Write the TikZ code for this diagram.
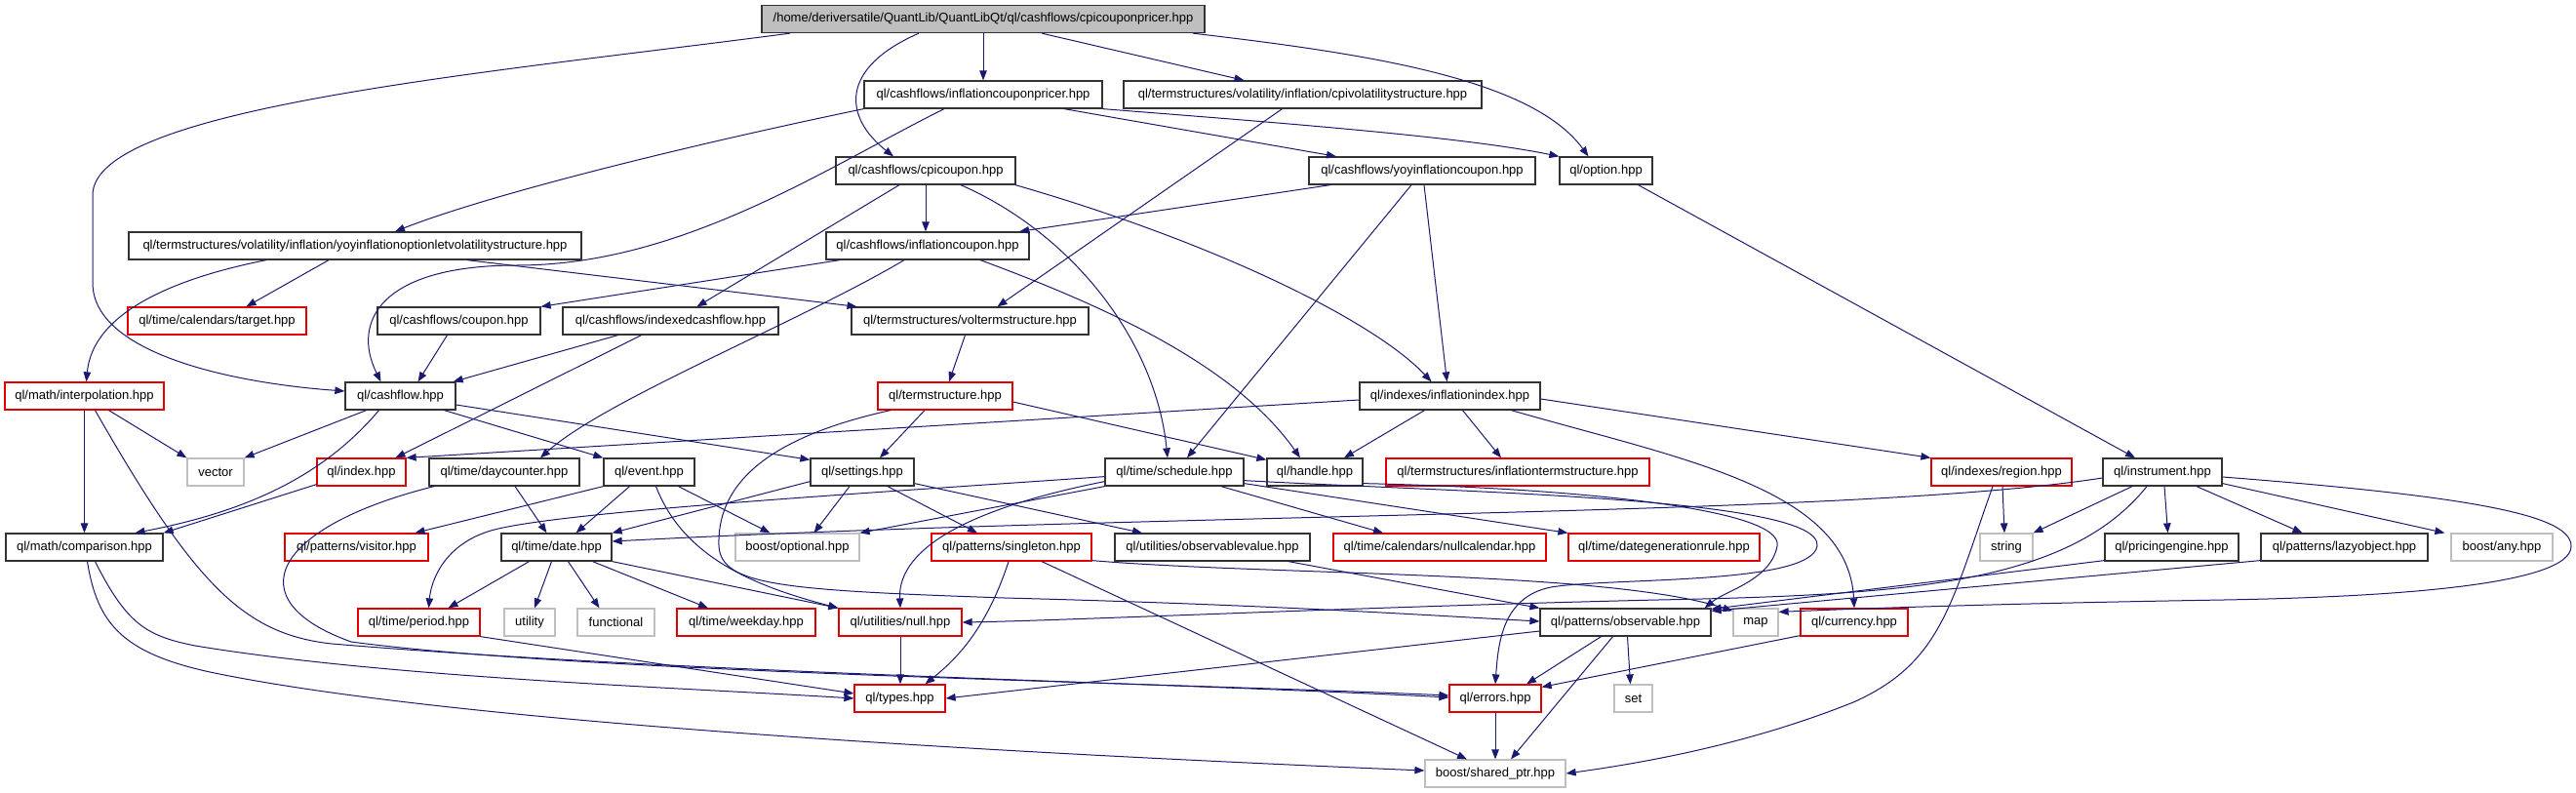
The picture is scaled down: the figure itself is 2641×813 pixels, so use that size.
\documentclass[tikz,border=0pt]{standalone}
\usepackage{fontspec}
\setmainfont{Liberation Sans}
\usetikzlibrary{arrows.meta}
\definecolor{navy}{HTML}{191970}
\definecolor{boxgray}{HTML}{BFBFBF}
\newcommand{\nodefont}{\fontsize{13}{15}\selectfont}
\begin{document}
\begin{tikzpicture}[x=1pt,y=-1pt,
  nb/.style={draw=black!80, line width=1.25pt, rectangle, minimum height=28pt, inner sep=0pt, font=\nodefont, text=black},
  nr/.style={nb, draw=red!90!black},
  ng/.style={nb, draw=boxgray},
  nroot/.style={nb, fill=boxgray},
  dep/.style={draw=navy, line width=1pt, -{Triangle[length=10pt,width=7.5pt]}}]
\useasboundingbox (0,0) rectangle (2641,813);
% nodes
\node[nroot, minimum width=454pt] (root) at (1008,19.5) {/home/deriversatile/QuantLib/QuantLibQt/ql/cashflows/cpicouponpricer.hpp};
\node[nb, minimum width=244pt] (icp) at (1008,97) {ql/cashflows/inflationcouponpricer.hpp};
\node[nb, minimum width=367pt] (cpv) at (1335.5,97) {ql/termstructures/volatility/inflation/cpivolatilitystructure.hpp};
\node[nb, minimum width=184pt] (cpc) at (949,175) {ql/cashflows/cpicoupon.hpp};
\node[nb, minimum width=232pt] (yic) at (1458,175) {ql/cashflows/yoyinflationcoupon.hpp};
\node[nb, minimum width=95pt] (opt) at (1646.5,175) {ql/option.hpp};
\node[nb, minimum width=464pt] (yov) at (364,252) {ql/termstructures/volatility/inflation/yoyinflationoptionletvolatilitystructure.hpp};
\node[nb, minimum width=208pt] (ic) at (951,252) {ql/cashflows/inflationcoupon.hpp};
\node[nr, minimum width=183pt] (target) at (222.5,329) {ql/time/calendars/target.hpp};
\node[nb, minimum width=167pt] (coupon) at (470.5,329) {ql/cashflows/coupon.hpp};
\node[nb, minimum width=221pt] (icf) at (687.5,329) {ql/cashflows/indexedcashflow.hpp};
\node[nb, minimum width=243pt] (vts) at (994.5,329) {ql/termstructures/voltermstructure.hpp};
\node[nr, minimum width=163pt] (int) at (86.5,406) {ql/math/interpolation.hpp};
\node[nb, minimum width=113pt] (cf) at (410.5,406) {ql/cashflow.hpp};
\node[nr, minimum width=138pt] (ts) at (969,406) {ql/termstructure.hpp};
\node[nb, minimum width=185pt] (ii) at (1486.5,406) {ql/indexes/inflationindex.hpp};
\node[ng, minimum width=58pt] (vector) at (221,484) {vector};
\node[nr, minimum width=91pt] (index) at (370.5,484) {ql/index.hpp};
\node[nb, minimum width=154pt] (dc) at (517,484) {ql/time/daycounter.hpp};
\node[nb, minimum width=93pt] (event) at (665.5,484) {ql/event.hpp};
\node[nb, minimum width=106pt] (settings) at (884,484) {ql/settings.hpp};
\node[nb, minimum width=142pt] (sched) at (1204,484) {ql/time/schedule.hpp};
\node[nb, minimum width=98pt] (handle) at (1348,484) {ql/handle.hpp};
\node[nr, minimum width=270pt] (its) at (1556,484) {ql/termstructures/inflationtermstructure.hpp};
\node[nr, minimum width=144pt] (region) at (2052,484) {ql/indexes/region.hpp};
\node[nb, minimum width=122pt] (inst) at (2217,484) {ql/instrument.hpp};
\node[nb, minimum width=161pt] (comp) at (86.5,561) {ql/math/comparison.hpp};
\node[nr, minimum width=147pt] (visitor) at (365.5,561) {ql/patterns/visitor.hpp};
\node[nb, minimum width=113pt] (date) at (570.5,561) {ql/time/date.hpp};
\node[ng, minimum width=127pt] (optional) at (817.5,561) {boost/optional.hpp};
\node[nr, minimum width=164pt] (sing) at (1037,561) {ql/patterns/singleton.hpp};
\node[nb, minimum width=200pt] (ov) at (1243,561) {ql/utilities/observablevalue.hpp};
\node[nr, minimum width=218pt] (nullcal) at (1476,561) {ql/time/calendars/nullcalendar.hpp};
\node[nr, minimum width=196pt] (dgr) at (1706,561) {ql/time/dategenerationrule.hpp};
\node[ng, minimum width=54pt] (string) at (2057,561) {string};
\node[nb, minimum width=137pt] (pe) at (2226.5,561) {ql/pricingengine.hpp};
\node[nb, minimum width=171pt] (lo) at (2403.5,561) {ql/patterns/lazyobject.hpp};
\node[ng, minimum width=104pt] (any) at (2565,561) {boost/any.hpp};
\node[nr, minimum width=125pt] (period) at (429.5,638) {ql/time/period.hpp};
\node[ng, minimum width=52pt] (utility) at (543,638) {utility};
\node[ng, minimum width=79pt] (functional) at (631.5,638) {functional};
\node[nr, minimum width=142pt] (weekday) at (765,638) {ql/time/weekday.hpp};
\node[nr, minimum width=126pt] (null) at (923,638) {ql/utilities/null.hpp};
\node[nb, minimum width=175pt] (obs) at (1666.5,638) {ql/patterns/observable.hpp};
\node[ng, minimum width=46pt] (map) at (1800,638) {map};
\node[nr, minimum width=110pt] (curr) at (1901,638) {ql/currency.hpp};
\node[nr, minimum width=93pt] (types) at (922.5,716) {ql/types.hpp};
\node[nr, minimum width=94pt] (errors) at (1533,716) {ql/errors.hpp};
\node[ng, minimum width=39pt] (set) at (1674.5,716) {set};
\node[ng, minimum width=144pt] (sp) at (1533,793) {boost/shared\_ptr.hpp};
% root
\draw[dep] ([xshift=-198pt]root.south) .. controls (500,75) and (95,110) .. (95,200) -- (95,290) .. controls (95,360) and (230,392) .. ([yshift=5pt]cf.west);
\draw[dep] ([xshift=-66pt]root.south) .. controls (860,70) and (865,120) .. ([xshift=-33pt]cpc.north);
\draw[dep] (root.south) -- (icp.north);
\draw[dep] ([xshift=60pt]root.south) -- ([xshift=-60pt]cpv.north);
\draw[dep] ([xshift=215pt]root.south) .. controls (1400,55) and (1570,80) .. ([xshift=-18pt]opt.north);
% inflationcouponpricer
\draw[dep] (icp.south west) .. controls (700,150) and (500,200) .. ([xshift=41pt]yov.north);
\draw[dep] ([xshift=-40pt]icp.south) .. controls (850,170) and (700,272) .. (530,272) .. controls (390,272) and (360,330) .. ([xshift=-20pt]cf.north);
\draw[dep] ([xshift=83pt]icp.south) -- ([xshift=-88pt]yic.north);
\draw[dep] (icp.south east) .. controls (1300,125) and (1500,140) .. (opt.north west);
% cpivolatilitystructure
\draw[dep] ([xshift=-21pt]cpv.south) -- ([xshift=28pt]vts.north);
% cpicoupon
\draw[dep] (cpc.south) -- (cpc.south |- ic.north);
\draw[dep] ([xshift=-27pt]cpc.south) -- ([xshift=27pt]icf.north);
\draw[dep] ([xshift=36pt]cpc.south) .. controls (1100,240) and (1185,350) .. ([xshift=-7pt]sched.north);
\draw[dep] ([xshift=92pt]cpc.south) .. controls (1250,250) and (1410,330) .. ([xshift=-19pt]ii.north);
% yoyinflationcoupon
\draw[dep] ([xshift=-94pt]yic.south) -- ([xshift=94pt]ic.north);
\draw[dep] ([xshift=-11pt]yic.south) -- ([xshift=13pt]sched.north);
\draw[dep] ([xshift=2pt]yic.south) -- ([xshift=-3pt]ii.north);
% option
\draw[dep] ([xshift=33pt]opt.south) -- ([xshift=-28pt]inst.north);
% yoy optionlet vol
\draw[dep] ([xshift=-27pt]yov.south) -- ([xshift=30pt]target.north);
\draw[dep] ([xshift=-91pt]yov.south) .. controls (180,285) and (95,320) .. ([xshift=2pt]int.north);
\draw[dep] ([xshift=115pt]yov.south) -- ([xshift=-116pt]vts.north);
% inflationcoupon
\draw[dep] ([xshift=-90pt]ic.south) -- (coupon.north east);
\draw[dep] ([xshift=-24pt]ic.south) .. controls (820,330) and (620,410) .. ([xshift=37pt]dc.north);
\draw[dep] ([xshift=54pt]ic.south) .. controls (1150,320) and (1270,380) .. ([xshift=-15pt]handle.north);
% indexedcashflow, coupon, voltermstructure
\draw[dep] ([xshift=-54pt]icf.south) -- ([xshift=-3pt]cf.north east);
\draw[dep] ([xshift=-30pt]icf.south) -- ([xshift=35pt]index.north);
\draw[dep] ([xshift=-12pt]coupon.south) -- ([xshift=18pt]cf.north);
\draw[dep] ([xshift=-5pt]vts.south) -- ([xshift=4pt]ts.north);
% cashflow
\draw[dep] ([xshift=-35pt]cf.south) -- (vector.north east);
\draw[dep] ([xshift=-22pt]cf.south) .. controls (330,490) and (250,525) .. ([xshift=52pt]comp.north);
\draw[dep] ([xshift=45pt]cf.south) -- (event.north west);
\draw[dep] ([yshift=-9pt]cf.east) -- ([yshift=-2pt]settings.north west);
% interpolation
\draw[dep] ([xshift=25pt]int.south) -- (vector.north west);
\draw[dep] (int.south) -- (comp.north);
\draw[dep] ([xshift=11pt]int.south) .. controls (200,600) and (250,650) .. (340,660) .. controls (700,690) and (1200,700) .. ([yshift=1pt]errors.west);
% daycounter
\draw[dep] ([xshift=-72pt]dc.south) .. controls (280,540) and (240,615) .. (360,658) .. controls (600,690) and (1200,700) .. ([yshift=3pt]errors.west);
\draw[dep] ([xshift=11pt]dc.south) -- ([xshift=-10pt]date.north);
% event
\draw[dep] (event.south west) -- ([xshift=60pt]visitor.north);
\draw[dep] ([xshift=-20pt]event.south) -- ([xshift=20pt]date.north);
\draw[dep] ([xshift=30pt]event.south) -- ([xshift=-28pt]optional.north);
\draw[dep] ([xshift=7pt]event.south) .. controls (700,570) and (770,600) .. (null.north west);
% date
\draw[dep] (date.south east) -- (null.north west);
\draw[dep] ([xshift=-28pt]date.south) -- ([xshift=30pt]period.north);
\draw[dep] ([xshift=-5pt]date.south) -- ([xshift=5pt]utility.north);
\draw[dep] ([xshift=12pt]date.south) -- ([xshift=-17pt]functional.north);
\draw[dep] ([xshift=37pt]date.south) -- ([xshift=-39pt]weekday.north);
% termstructure
\draw[dep] ([xshift=-56pt]ts.south) .. controls (780,450) and (735,500) .. (737,560) .. controls (740,600) and (800,605) .. (1030,613) .. controls (1300,620) and (1450,630) .. ([yshift=1pt]obs.west);
\draw[dep] ([xshift=-21pt]ts.south) -- ([xshift=18pt]settings.north);
\draw[dep] ([yshift=-6pt]ts.east) -- ([yshift=-2pt]handle.north west);
% inflationindex
\draw[dep] ([yshift=-4pt]ii.west) -- (index.north east);
\draw[dep] ([xshift=-26pt]ii.south) -- ([xshift=30pt]handle.north);
\draw[dep] ([xshift=13pt]ii.south) -- ([xshift=-17pt]its.north);
\draw[dep] ([yshift=-3pt]ii.east) -- (region.north west);
\draw[dep] ([xshift=63pt]ii.south) .. controls (1720,470) and (1895,500) .. (curr.north);
% settings
\draw[dep] ([yshift=5pt]settings.south west) -- (date.north east);
\draw[dep] ([xshift=-13pt]settings.south) -- ([xshift=17pt]optional.north);
\draw[dep] ([xshift=26pt]settings.south) -- ([xshift=-35pt]sing.north);
\draw[dep] ([yshift=3pt]settings.south east) -- ([xshift=-72pt]ov.north);
% schedule
\draw[dep] ([yshift=10pt]sched.south west) .. controls (900,505) and (560,525) .. (500,545) .. controls (455,560) and (442,595) .. ([xshift=10pt]period.north);
\draw[dep] ([yshift=5pt]sched.south west) .. controls (1000,520) and (920,560) .. (null.north);
\draw[dep] (sched.south west) -- (optional.north east);
\draw[dep] ([xshift=48pt]sched.south) -- ([xshift=-58pt]nullcal.north);
\draw[dep] ([yshift=3pt]sched.south east) -- (dgr.north west);
\draw[dep] ([yshift=6pt]sched.south east) .. controls (1500,505) and (1870,510) .. (1863,560) .. controls (1856,600) and (1650,592) .. (1590,602) .. controls (1540,612) and (1536,660) .. (errors.north);
% handle
\draw[dep] ([yshift=3pt]handle.south east) .. controls (1600,500) and (1830,520) .. (1822,560) .. controls (1815,595) and (1770,605) .. ([xshift=-7pt]obs.north east);
% observablevalue
\draw[dep] ([xshift=78pt]ov.south) -- (obs.north west);
% singleton
\draw[dep] ([yshift=1pt]sing.south east) .. controls (1300,590) and (1650,585) .. ([yshift=-3pt]map.north west);
\draw[dep] ([xshift=-3pt]sing.south) .. controls (1010,650) and (975,680) .. ([xshift=26pt]types.north);
\draw[dep] ([xshift=31pt]sing.south) -- ([xshift=-29pt]sp.north);
% observable
\draw[dep] ([yshift=-9pt]obs.west) -- (types.east);
\draw[dep] ([xshift=-25pt]obs.south) -- ([xshift=32pt]errors.north);
\draw[dep] ([xshift=-13pt]obs.south) -- ([xshift=16pt]sp.north);
\draw[dep] ([xshift=2pt]obs.south) -- ([xshift=-3pt]set.north);
% errors, null
\draw[dep] (errors.south) -- (sp.north);
\draw[dep] (null.south) -- (null.south |- types.north);
% comparison
\draw[dep] ([xshift=11pt]comp.south) .. controls (130,640) and (150,652) .. (200,662) .. controls (400,695) and (700,705) .. (types.west);
\draw[dep] ([xshift=3pt]comp.south) .. controls (100,640) and (125,672) .. (230,692) .. controls (500,745) and (1100,775) .. ([yshift=3pt]sp.west);
% period, index
\draw[dep] (period.south east) -- ([yshift=5pt]types.west);
\draw[dep] ([yshift=2pt]index.south west) -- (comp.north east);
% instrument
\draw[dep] ([yshift=-6pt]inst.west) .. controls (1900,530) and (1200,525) .. ([yshift=6pt]date.east);
\draw[dep] ([xshift=-31pt]inst.south) -- (string.north east);
\draw[dep] ([xshift=2pt]inst.south) -- ([xshift=-4pt]pe.north);
\draw[dep] ([xshift=35pt]inst.south) -- ([xshift=-43pt]lo.north);
\draw[dep] ([yshift=3pt]inst.south east) -- ([xshift=-6pt]any.north west);
\draw[dep] ([yshift=-5pt]inst.east) .. controls (2550,510) and (2636,530) .. (2636,560) .. controls (2636,600) and (2450,612) .. (2280,615) .. controls (2100,618) and (1950,622) .. ([yshift=-4pt]map.north east);
\draw[dep] ([xshift=-16pt]inst.south) .. controls (2120,600) and (1950,610) .. (1700,615) .. controls (1400,622) and (1100,636) .. (null.east);
% pricingengine, lazyobject
\draw[dep] ([yshift=1pt]pe.south west) -- ([yshift=-1pt]obs.north east);
\draw[dep] ([yshift=1pt]lo.south west) -- ([yshift=-3pt]obs.north east);
% region
\draw[dep] ([xshift=1pt]region.south) -- ([xshift=-2pt]string.north);
\draw[dep] ([xshift=-9pt]region.south) .. controls (2000,620) and (1990,680) .. (1900,720) .. controls (1800,760) and (1700,780) .. (sp.east);
% currency
\draw[dep] ([yshift=1pt]curr.south west) -- ([yshift=-3pt]errors.north east);
\end{tikzpicture}
\end{document}
